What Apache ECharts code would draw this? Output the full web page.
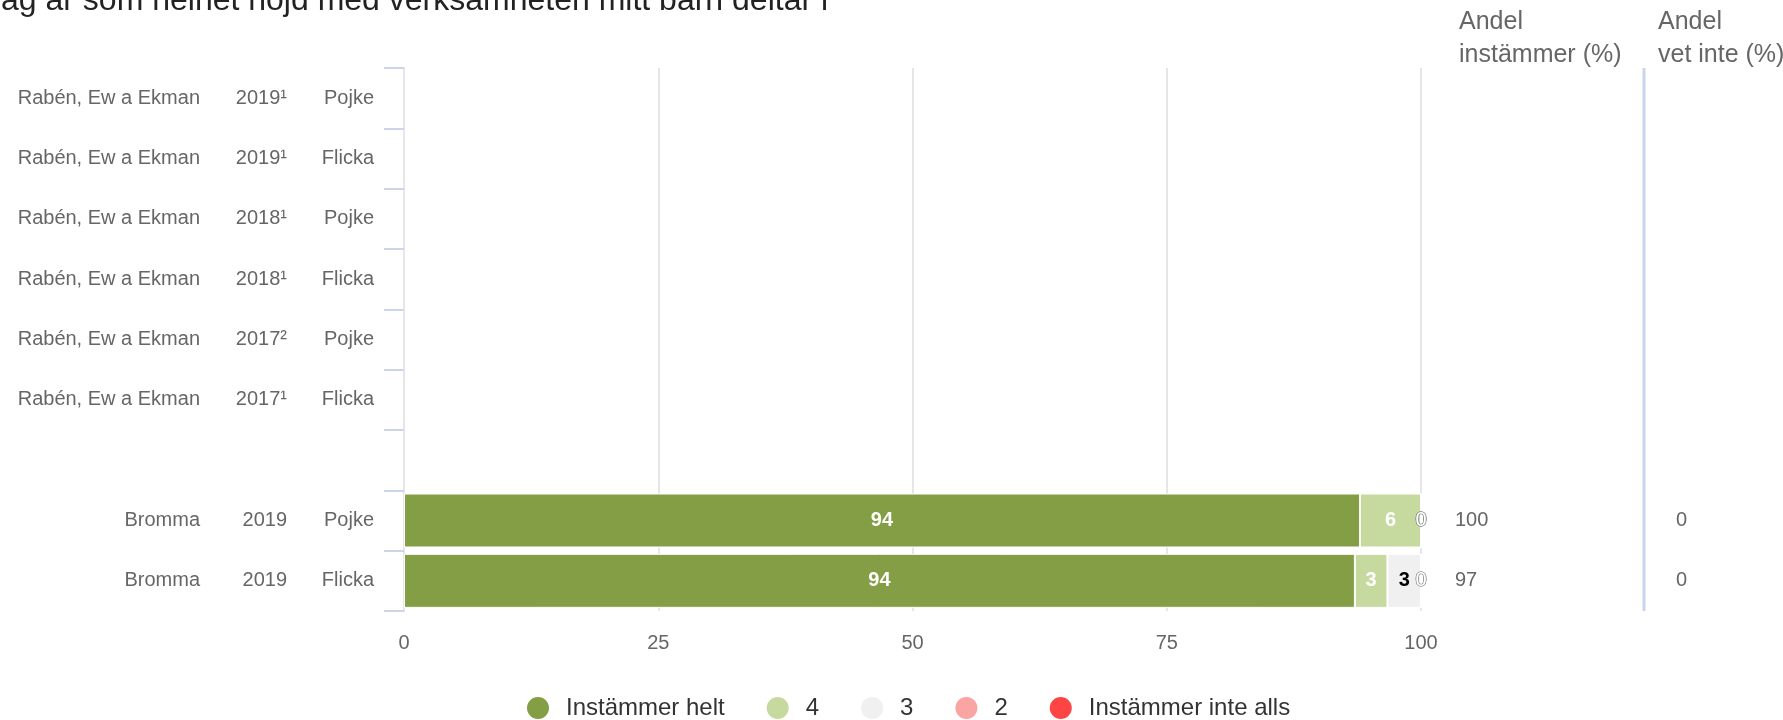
<!DOCTYPE html>
<html>
<head>
<meta charset="utf-8">
<script src="https://cdn.jsdelivr.net/npm/echarts@6/dist/echarts.min.js"></script>
<style>
html,body{margin:0;padding:0;background:#fff;}
#chart{width:1783px;height:720px;}
</style>
</head>
<body>
<div id="chart"></div>
<script>
// ---- data ----
const titleText = 'Jag är som helhet nöjd med verksamheten mitt barn deltar i';
const names   = ['Rabén, Ew a Ekman','Rabén, Ew a Ekman','Rabén, Ew a Ekman','Rabén, Ew a Ekman','Rabén, Ew a Ekman','Rabén, Ew a Ekman','','Bromma','Bromma'];
const years   = ['2019¹','2019¹','2018¹','2018¹','2017²','2017¹','','2019','2019'];
const genders = ['Pojke','Flicka','Pojke','Flicka','Pojke','Flicka','','Pojke','Flicka'];
const seriesNames = ['Instämmer helt','4','3','2','Instämmer inte alls'];
const helt      = [null,null,null,null,null,null,null,94,93.5];
const val4      = [null,null,null,null,null,null,null,6,3.2];
const val3      = [null,null,null,null,null,null,null,0,3.3];
const val2      = [null,null,null,null,null,null,null,0,0];
const inteAlls  = [null,null,null,null,null,null,null,0,0];
const andelInstammer = [null,null,null,null,null,null,null,100,97];
const andelVetInte   = [null,null,null,null,null,null,null,0,0];
const xTicks = [0,25,50,75,100];
const headerInstammer = 'Andel\ninstämmer (%)';
const headerVetInte = 'Andel\nvet inte (%)';

// ---- style ----
const FONT = '"Liberation Sans", Arial, sans-serif';
const colors = ['#839e44','#c6d99f','#f0f0f0','#faa4a4','#ff4444'];
const labelColors = ['#ffffff','#ffffff','#000000','#000000','#ffffff'];
const allValues = [helt,val4,val3,val2,inteAlls];
const cats = names.map((_, i) => String(i));

const series = allValues.map((arr, si) => ({
  name: seriesNames[si],
  type: 'bar',
  stack: 'total',
  barWidth: 54,
  itemStyle: { color: colors[si], borderColor: '#ffffff', borderWidth: 1 },
  label: {
    show: true,
    position: 'inside',
    fontFamily: FONT,
    fontSize: 20,
    fontWeight: 'bold',
    color: labelColors[si],
    formatter: p => String(Math.round(p.value))
  },
  data: arr.map(v => {
    if (v === null) return '-';
    if (v === 0) return { value: 0, label: { color: '#ffffff', textBorderColor: '#8a8a8a', textBorderWidth: 1.2, fontWeight: 'normal' } };
    return v;
  })
}));

const chart = echarts.init(document.getElementById('chart'), null, { renderer: 'canvas' });
chart.setOption({
  backgroundColor: '#ffffff',
  animation: false,
  title: {
    text: titleText,
    left: -15,
    top: -15,
    padding: 0,
    textStyle: { fontFamily: FONT, fontSize: 32, fontWeight: 'normal', color: '#222222' }
  },
  legend: {
    data: seriesNames,
    left: 520,
    top: 690,
    icon: 'circle',
    itemWidth: 24,
    itemHeight: 24,
    itemGap: 40,
    textStyle: { fontFamily: FONT, fontSize: 24, color: '#333333', padding: [0,0,0,11] }
  },
  grid: { left: 404, right: 362, top: 68, bottom: 109, containLabel: false },
  xAxis: {
    type: 'value',
    min: xTicks[0],
    max: xTicks[xTicks.length - 1],
    interval: xTicks[1] - xTicks[0],
    axisLine: { show: false },
    axisTick: { show: false },
    splitLine: { show: true, lineStyle: { color: '#e6e6e6', width: 2 } },
    axisLabel: { fontFamily: FONT, fontSize: 20, color: '#666666', margin: 22 }
  },
  yAxis: [{
    type: 'category',
    inverse: true,
    data: cats,
    axisLine: { show: true, lineStyle: { color: '#e6e6e6', width: 2 } },
    axisTick: { show: true, length: 20, lineStyle: { color: '#ccd6eb', width: 2 } },
    axisLabel: {
      margin: 30,
      fontFamily: FONT,
      fontSize: 20,
      color: '#666666',
      formatter: (v, i) => {
        const idx = Number(v);
        if (!names[idx]) return '';
        return '{n|' + names[idx] + '}{y|' + years[idx] + '}{g|' + genders[idx] + '}';
      },
      rich: {
        n: { width: 185, align: 'right', fontFamily: FONT, fontSize: 20, color: '#666666' },
        y: { width: 87, align: 'right', fontFamily: FONT, fontSize: 20, color: '#666666' },
        g: { width: 87, align: 'right', fontFamily: FONT, fontSize: 20, color: '#666666' }
      }
    }
  }, {
    type: 'category',
    inverse: true,
    position: 'right',
    data: cats,
    axisLine: { show: false },
    axisTick: { show: false },
    axisLabel: {
      margin: 34,
      fontFamily: FONT,
      fontSize: 20,
      color: '#666666',
      formatter: (v) => {
        const idx = Number(v);
        if (andelInstammer[idx] === null) return '';
        return '{a|' + andelInstammer[idx] + '}{b|' + andelVetInte[idx] + '}';
      },
      rich: {
        a: { width: 221, align: 'left', fontFamily: FONT, fontSize: 20, color: '#666666' },
        b: { align: 'left', fontFamily: FONT, fontSize: 20, color: '#666666' }
      }
    }
  }],
  graphic: [
    { type: 'text', left: 1459, top: 6, style: { text: headerInstammer, font: '25px ' + FONT, fill: '#666666', lineHeight: 33 } },
    { type: 'text', left: 1658, top: 6, style: { text: headerVetInte, font: '25px ' + FONT, fill: '#666666', lineHeight: 33 } },
    { type: 'line', shape: { x1: 1644, y1: 68, x2: 1644, y2: 611 }, style: { stroke: '#c8d5ea', lineWidth: 3 } }
  ],
  series: series
});
</script>
</body>
</html>
